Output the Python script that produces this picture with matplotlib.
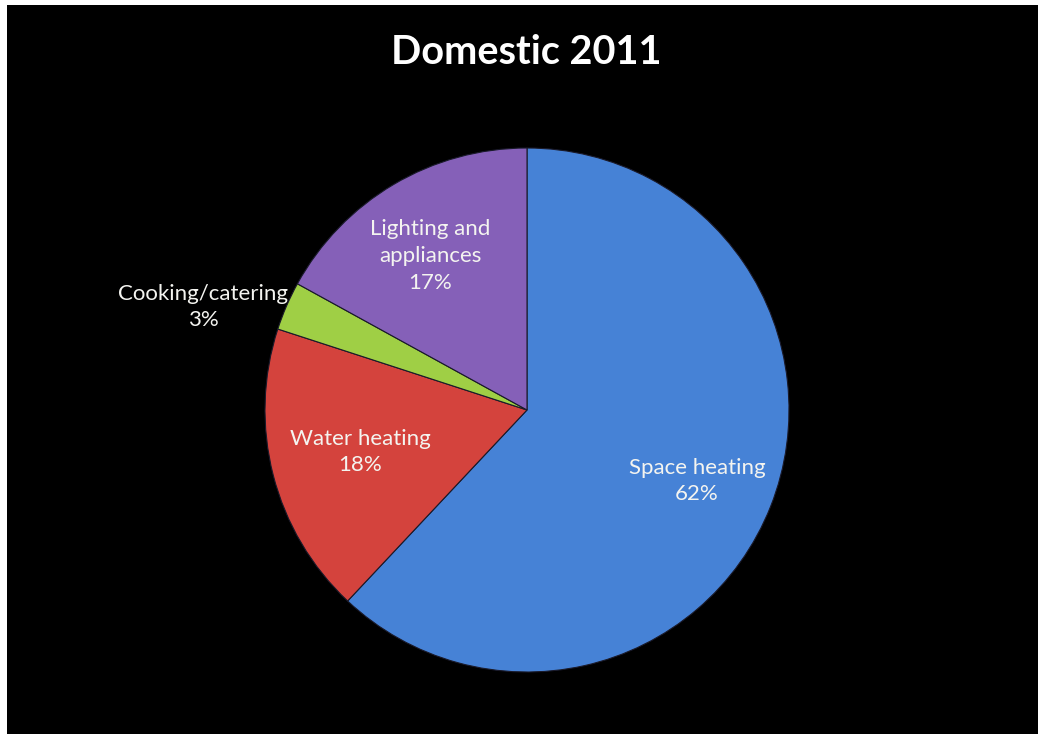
import numpy as np
import matplotlib
matplotlib.use("Agg")
import matplotlib.pyplot as plt
from matplotlib.patches import Rectangle

# Domestic energy use by end use, 2011 (%)
categories = ["Space heating", "Water heating", "Cooking/catering", "Lighting and\nappliances"]
shares = [62, 18, 3, 17]
colors = ["#4682d6", "#d4433d", "#9fcf45", "#8560b8"]

# label centres relative to the pie centre, in units of the radius
label_offsets = [(0.649, -0.271), (-0.637, -0.160), (-1.237, 0.393), (-0.370, 0.588)]

W, H = 1038, 734
fig = plt.figure(figsize=(W / 100, H / 100), dpi=100, facecolor="white")

# black slide background with a thin white margin at the left and top
fig.patches.append(Rectangle((7 / W, -0.05), 1.05, 1.05 - 5 / H, transform=fig.transFigure,
                             facecolor="black", edgecolor="none", zorder=-10))

ax = fig.add_axes([0, 0, 1, 1])
ax.patch.set_visible(False)

cx, cy, r = 527, H - 410, 262
wedges, _ = ax.pie(shares, colors=colors, startangle=90, counterclock=False,
                   center=(cx, cy), radius=r, frame=True,
                   wedgeprops=dict(edgecolor="#1a1a2a", linewidth=0.8))
ax.set_aspect("auto")
ax.set_xlim(0, W)
ax.set_ylim(0, H)
ax.axis("off")

font = "Lato"
for name, val, (dx, dy) in zip(categories, shares, label_offsets):
    ax.text(cx + dx * r, cy + dy * r, f"{name}\n{val}%", ha="center", va="center",
            color="#f4f4f0", fontsize=16, family=font, linespacing=1.42, zorder=5)

ax.text(526, H - 52, "Domestic 2011", ha="center", va="center", color="white",
        fontsize=28.5, fontweight="bold", family=font)

fig.savefig("out.png", dpi=100, facecolor=fig.get_facecolor())
